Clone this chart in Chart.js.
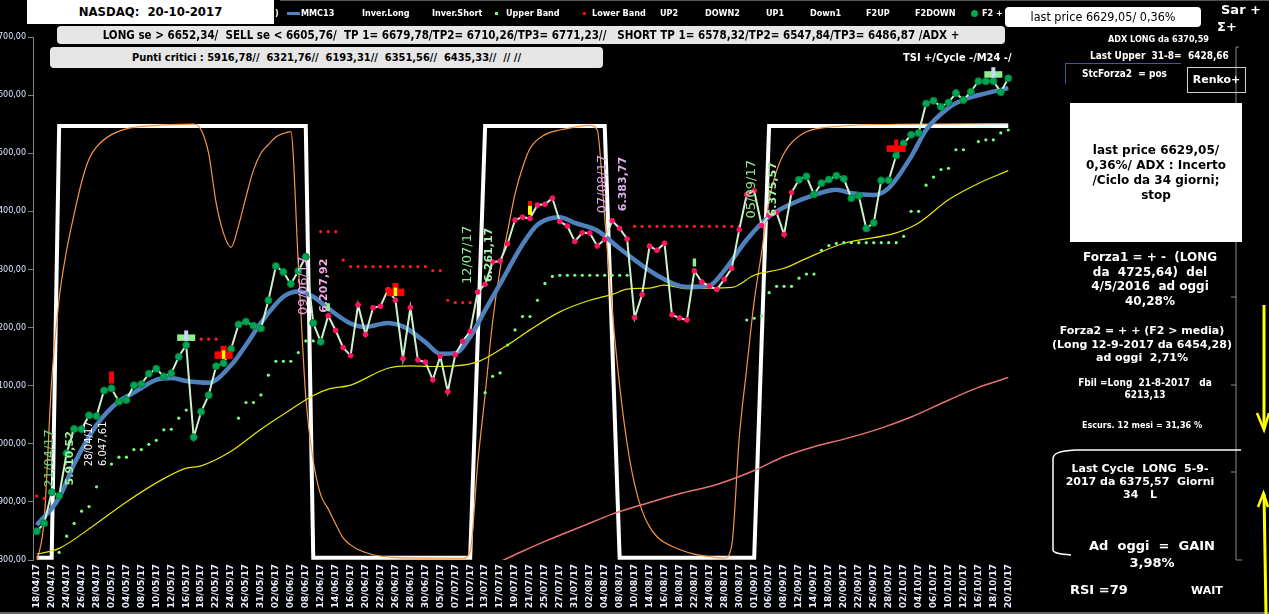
<!DOCTYPE html>
<html>
<head>
<meta charset="utf-8">
<title>NASDAQ 20-10-2017</title>
<script src="https://cdn.jsdelivr.net/npm/chart.js@4.4.1/dist/chart.umd.min.js"></script>
<style>
  html, body { margin: 0; padding: 0; background: #000; }
  #wrap { position: relative; width: 1269px; height: 614px; overflow: hidden; background: #000;
          font-family: 'DejaVu Sans Condensed', 'DejaVu Sans', sans-serif; }
  #c { position: absolute; left: 0; top: 0; }
  .t { position: absolute; color: #fff; font-weight: bold; white-space: pre; line-height: 12px; }
  .leg { top: 7px; font-size: 9px; }
  .box { position: absolute; color: #000; font-weight: bold; text-align: center; white-space: pre; }
  .panel { position: absolute; color: #fff; font-weight: bold; text-align: center; white-space: pre;
           font-family: 'DejaVu Sans', sans-serif; }
  svg { position: absolute; left: 0; top: 0; }
</style>
</head>
<body>
<div id="wrap">
  <canvas id="c" width="1269" height="614"></canvas>

  <svg width="1269" height="614">
    <line x1="280" y1="0.5" x2="1269" y2="0.5" stroke="#555" />
    <line x1="0" y1="613" x2="1269" y2="613" stroke="#cfcfcf" />
    <polyline points="1239,47 1236,47 1236,560 1242,560" fill="none" stroke="#8a8a8a" />
    <line x1="1231" y1="297" x2="1236" y2="297" stroke="#8a8a8a" />
    <line x1="1231" y1="385" x2="1236" y2="385" stroke="#8a8a8a" />
    <line x1="1231" y1="472" x2="1236" y2="472" stroke="#8a8a8a" />
    <path d="M1241,450 L1075,450 C1060,451 1053,453 1053,459 L1053,550 C1053,553 1060,554 1071,555"
          fill="none" stroke="#fff" stroke-width="1.5" />
    <line x1="1264" y1="305" x2="1264" y2="429" stroke="#ffff00" stroke-width="3" />
    <polyline points="1257,413 1264,430 1269,413" fill="none" stroke="#ffff00" stroke-width="2.5" />
    <line x1="1264" y1="494" x2="1266" y2="614" stroke="#ffff00" stroke-width="3" />
    <polyline points="1258,507 1263.5,493 1268,507" fill="none" stroke="#ffff00" stroke-width="2.5" />
  </svg>

  <!-- top legend row -->
  <div class="box" style="left:27px;top:0;width:247px;height:24px;line-height:24px;background:#fff;font-size:13px;">NASDAQ:  20-10-2017</div>
  <div class="t leg" style="left:275px;">)</div>
  <div style="position:absolute;left:287px;top:12px;width:13px;height:3px;background:#4f81bd;"></div>
  <div class="t leg" style="left:301px;">MMC13</div>
  <div class="t leg" style="left:362px;">Inver.Long</div>
  <div class="t leg" style="left:432px;">Inver.Short</div>
  <div style="position:absolute;left:495px;top:12px;width:3px;height:3px;background:#7cfc7c;"></div>
  <div class="t leg" style="left:506px;">Upper Band</div>
  <div style="position:absolute;left:583px;top:12px;width:3px;height:3px;background:#ff0000;"></div>
  <div class="t leg" style="left:592px;">Lower Band</div>
  <div class="t leg" style="left:660px;">UP2</div>
  <div class="t leg" style="left:705px;">DOWN2</div>
  <div class="t leg" style="left:766px;">UP1</div>
  <div class="t leg" style="left:810px;">Down1</div>
  <div class="t leg" style="left:866px;">F2UP</div>
  <div class="t leg" style="left:915px;">F2DOWN</div>
  <div style="position:absolute;left:971px;top:10px;width:7px;height:7px;border-radius:50%;background:#00a651;"></div>
  <div class="t leg" style="left:982px;">F2 +</div>

  <div class="box" style="left:1005px;top:7px;width:196px;height:20px;line-height:20px;background:#fff;border-radius:4px;font-size:12.5px;font-weight:normal;">last price 6629,05/ 0,36%</div>
  <div class="t" style="left:1221px;top:4px;font-size:13px;font-family:'DejaVu Sans';">Sar +</div>
  <div class="t" style="left:1217px;top:21px;font-size:13px;font-family:'DejaVu Sans';">Σ+</div>

  <div class="box" style="left:57px;top:26px;width:948px;height:18px;line-height:18px;background:#e6e6e6;border-radius:4px;font-size:11.5px;">LONG se > 6652,34/  SELL se < 6605,76/  TP 1= 6679,78/TP2= 6710,26/TP3= 6771,23//   SHORT TP 1= 6578,32/TP2= 6547,84/TP3= 6486,87 /ADX +</div>
  <div class="box" style="left:50px;top:47px;width:553px;height:21px;line-height:21px;background:#e6e6e6;border-radius:4px;font-size:11px;">Punti critici : 5916,78//  6321,76//  6193,31//  6351,56//  6435,33//  // //</div>

  <div class="t" style="left:1108px;top:33px;font-size:9px;">ADX LONG da 6370,59</div>
  <div class="t" style="left:1090px;top:50px;font-size:10px;">Last Upper  31-8=  6428,66</div>
  <div class="t" style="left:903px;top:52px;font-size:11px;">TSI +/Cycle -/M24 -/</div>
  <div class="t" style="left:1065px;top:63px;width:99px;height:20px;line-height:20px;padding-left:16px;font-size:10px;border-left:1px solid #3a5aa8;border-top:1px solid #3a5aa8;">StcForza2  = pos</div>
  <div class="t" style="left:1187px;top:67px;width:57px;height:24px;line-height:24px;text-align:center;font-size:11px;font-family:'DejaVu Sans';border:1px solid #d0d0d0;">Renko+</div>

  <!-- right panel -->
  <div class="panel" style="left:1070px;top:103px;width:172px;height:139px;background:#fff;"></div>
  <div class="panel" style="left:1056px;top:143px;width:200px;color:#000;font-size:12px;line-height:15px;">last price 6629,05/
0,36%/ ADX : Incerto
/Ciclo da 34 giorni;
stop</div>
  <div class="panel" style="left:1050px;top:250px;width:200px;font-size:12px;line-height:14.5px;">Forza1 = + -  (LONG
da  4725,64)  del
4/5/2016  ad oggi
40,28%</div>
  <div class="panel" style="left:1042px;top:324px;width:200px;font-size:11px;line-height:13.5px;">Forza2 = + + (F2 > media)
(Long 12-9-2017 da 6454,28)
ad oggi  2,71%</div>
  <div class="panel" style="left:1045px;top:377px;width:200px;font-size:10px;line-height:11.5px;font-family:'DejaVu Sans Condensed';">Fbil =Long  21-8-2017   da
6213,13</div>
  <div class="panel" style="left:1042px;top:419px;width:200px;font-size:9px;line-height:12px;font-family:'DejaVu Sans Condensed';">Escurs. 12 mesi = 31,36 %</div>
  <div class="panel" style="left:1040px;top:463px;width:200px;font-size:11px;line-height:12.8px;">Last Cycle  LONG  5-9-
2017 da 6375,57  Giorni
34   L</div>
  <div class="panel" style="left:1052px;top:537px;width:200px;font-size:13px;line-height:17px;">Ad  oggi  =  GAIN
3,98%</div>
  <div class="panel" style="left:1070px;top:582px;font-size:13px;line-height:15px;">RSI =79</div>
  <div class="panel" style="left:1191px;top:583px;font-size:11px;line-height:15px;">WAIT</div>
</div>

<script>
// trading days 18/04/17 .. 20/10/17
const days = (
  '18/04 19/04 20/04 21/04 24/04 25/04 26/04 27/04 28/04 ' +
  '01/05 02/05 03/05 04/05 05/05 08/05 09/05 10/05 11/05 12/05 15/05 16/05 17/05 18/05 19/05 22/05 23/05 24/05 25/05 26/05 30/05 31/05 ' +
  '01/06 02/06 05/06 06/06 07/06 08/06 09/06 12/06 13/06 14/06 15/06 16/06 19/06 20/06 21/06 22/06 23/06 26/06 27/06 28/06 29/06 30/06 ' +
  '03/07 05/07 06/07 07/07 10/07 11/07 12/07 13/07 14/07 17/07 18/07 19/07 20/07 21/07 24/07 25/07 26/07 27/07 28/07 31/07 ' +
  '01/08 02/08 03/08 04/08 07/08 08/08 09/08 10/08 11/08 14/08 15/08 16/08 17/08 18/08 21/08 22/08 23/08 24/08 25/08 28/08 29/08 30/08 31/08 ' +
  '01/09 05/09 06/09 07/09 08/09 11/09 12/09 13/09 14/09 15/09 18/09 19/09 20/09 21/09 22/09 25/09 26/09 27/09 28/09 29/09 ' +
  '02/10 03/10 04/10 05/10 06/10 09/10 10/10 11/10 12/10 13/10 16/10 17/10 18/10 19/10 20/10'
).split(' ').map(d => d + '/17');

// daily close
const closes = [
  5849.47, 5863.03, 5916.78, 5910.52, 5983.82, 6025.49, 6025.23, 6048.94, 6047.61,
  6091.60, 6095.37, 6072.55, 6075.34, 6100.76, 6102.66, 6120.59, 6129.14, 6115.96, 6121.23, 6149.67,
  6169.87, 6011.24, 6055.13, 6083.70, 6133.62, 6138.71, 6163.02, 6205.26, 6210.19, 6203.19, 6198.52,
  6246.83, 6305.80, 6295.68, 6275.06, 6297.38, 6321.76, 6207.92, 6175.47, 6220.37, 6194.89, 6165.50,
  6151.76, 6239.01, 6188.03, 6233.95, 6236.69, 6265.25, 6247.15, 6146.62, 6234.41, 6144.35, 6140.42,
  6110.06, 6150.86, 6089.46, 6153.08, 6176.39, 6193.31, 6261.17, 6274.44, 6312.47, 6314.43, 6344.31,
  6385.04, 6390.00, 6387.75, 6410.81, 6412.17, 6422.75, 6382.19, 6374.68, 6348.12,
  6362.94, 6362.65, 6340.34, 6351.56, 6383.77, 6370.46, 6352.33, 6216.87, 6256.56, 6340.23, 6333.01,
  6345.11, 6221.91, 6216.53, 6213.13, 6297.48, 6278.41, 6271.33, 6265.64, 6283.02, 6301.89, 6368.31, 6428.66,
  6435.33, 6375.57, 6393.31, 6397.87, 6360.19, 6432.26, 6454.28, 6460.19, 6429.08, 6448.47, 6454.64,
  6461.32, 6456.04, 6422.69, 6426.92, 6370.59, 6380.16, 6453.26, 6453.45, 6495.96,
  6516.72, 6531.71, 6534.63, 6585.36, 6590.18, 6579.73, 6587.25, 6603.55, 6591.51, 6605.80, 6624.00,
  6623.66, 6624.22, 6605.07, 6629.05
];
// short phase of the markers (pink), the rest is long (green)
const shortFrom = 39, shortTo = 101;

// [day index, value]
const mmc13 = [[0,5860],[3,5907],[5,5965],[8,6032],[11,6073],[13,6088],[16,6110],[18,6113],[20,6108],
  [23,6105],[26,6135],[28,6170],[30,6208],[33,6253],[35,6262],[37,6253],[39,6233],[42,6207],[44,6201],
  [47,6208],[49,6202],[52,6175],[54,6155],[56,6156],[58,6184],[60,6230],[62,6275],[65,6343],[67,6377],
  [70,6390],[72,6380],[75,6367],[78,6336],[83,6290],[87,6270],[90,6272],[92,6298],[95,6351],[98,6391],
  [101,6413],[104,6428],[107,6437],[109,6431],[112,6428],[114,6440],[117,6494],[119,6540],[122,6578],
  [124,6592],[127,6603],[130,6612]];
const slowMa = [[0,5810],[3,5820],[8,5863],[12,5900],[17,5940],[20,5958],[22,5962],[26,5987],[30,6025],
  [34,6059],[37,6083],[39,6094],[42,6101],[47,6130],[50,6134],[53,6133],[56,6134],[59,6141],[63,6170],
  [66,6196],[70,6227],[74,6247],[77,6257],[79,6266],[82,6268],[84,6273],[87,6267],[93,6269],[96,6290],
  [100,6302],[103,6319],[108,6345],[115,6363],[118,6380],[122,6420],[126,6448],[130,6470]];
const longMa = [[62,5797],[65,5815],[68,5832],[73,5858],[77,5879],[82,5899],[86,5914],[91,5930],[96,5954],
  [100,5978],[104,5995],[108,6008],[113,6027],[117,6046],[122,6075],[126,6097],[130,6114]];
const oscillator = [[0,5795],[1,5870],[2,6110],[3,6250],[4,6333],[5,6395],[6,6450],[7,6490],[8,6511],
  [10,6532],[12,6542],[15,6547],[21,6550],[22,6540],[23,6500],[24,6415],[25,6362],[26,6338],[27,6375],
  [28,6425],[29,6471],[30,6500],[31,6515],[32,6528],[33,6534],[34,6537],[35,6310],[36,6080],[37,5970],
  [38,5912],[39,5888],[40,5862],[41,5838],[42,5826],[43,5818],[45,5809],[48,5804],[57,5803],[58,5815],
  [59,5965],[60,6085],[61,6210],[62,6300],[63,6365],[64,6430],[65,6475],[66,6508],[68,6532],[70,6540],
  [72,6545],[74,6548],[75,6540],[76,6390],[77,6230],[78,6100],[79,6000],[80,5930],[81,5885],[82,5857],
  [83,5840],[84,5830],[86,5818],[88,5810],[90,5806],[92,5803],[93,5825],[94,6010],[95,6130],[96,6245],
  [97,6330],[98,6420],[99,6470],[100,6500],[101,6518],[103,6537],[107,6546],[111,6549],[130,6551]];
const cycle = [[0,5804],[2,5804],[3,6547],[36,6547],[37,5804],[58,5804],[60,6547],[76,6547],[78,5804],
  [96,5804],[98,6547],[130,6547]];
const upperBand = [[3,5813],[4,5841],[5,5863],[6,5884],[7,5892],[8,5926],[10,5965],[11,5977],[12,5977],
  [13,5990],[14,5990],[15,5999],[16,6006],[17,6024],[18,6025],[19,6044],[20,6058],
  [27,6044],[28,6071],[29,6071],[30,6084],[31,6118],[32,6142],[33,6142],[34,6142],[35,6157],[36,6177],[37,6177],
  [60,6088],[61,6116],[62,6122],[63,6170],[64,6196],[65,6219],[66,6219],[67,6247],[68,6276],[69,6288],
  [70,6290],[71,6290],[72,6290],[73,6290],[74,6290],[75,6290],[76,6290],[77,6290],[78,6290],[79,6290],
  [95,6213],[96,6216],[97,6220],[98,6260],[99,6271],[100,6271],[101,6271],[102,6285],[103,6292],[104,6292],
  [105,6333],[106,6341],[107,6345],[108,6346],[109,6346],[110,6346],[111,6346],[112,6346],[113,6346],
  [114,6346],[115,6346],[116,6357],[117,6400],[118,6400],[119,6445],[120,6459],[121,6472],[122,6474],
  [123,6506],[124,6506],[126,6520],[127,6523],[128,6523],[129,6535],[130,6540]];
const lowerBand = [[0,5910],[1,5906],[22,6180],[23,6180],[24,6180],[38,6365],[39,6365],[40,6365],[41,6316],
  [42,6305],[43,6305],[44,6305],[45,6305],[46,6305],[47,6305],[48,6305],[49,6305],[50,6305],[51,6305],
  [52,6305],[53,6298],[54,6298],[55,6247],[56,6243],[57,6243],[58,6243],
  [80,6374],[81,6374],[82,6374],[83,6374],[84,6374],[85,6374],[86,6374],[87,6374],[88,6374],[89,6374],
  [90,6374],[91,6374],[92,6374],[93,6374],[94,6374]];

// signal marks on the price
const signals = [
  { day: 10, at: 6114, kind: 'bar' },
  { day: 20, at: 6183, kind: 'f2' },
  { day: 25, at: 6153, kind: 'cross' },
  { day: 39, at: 6235, kind: 'tick' },
  { day: 48, at: 6261, kind: 'cross' },
  { day: 66, at: 6406, kind: 'flag' },
  { day: 88, at: 6312, kind: 'tick' },
  { day: 115, at: 6508, kind: 'bigcross' },
  { day: 128, at: 6636, kind: 'f2' }
];
// rotated date / price notes
const notes = [
  { day: 3, at: 5975, date: '21/04/17', price: '5.910,52', c1: '#6fd86f', c2: '#9ef09e', big: true },
  { day: 8, at: 6000, date: '28/04/17', price: '6.047,61', c1: '#ffffff', c2: '#ffffff', big: false },
  { day: 37, at: 6272, date: '09/06/17', price: '6.207,92', c1: '#f0a0ea', c2: '#f4a8e4', big: true },
  { day: 59, at: 6325, date: '12/07/17', price: '6.261,17', c1: '#8ee88e', c2: '#a8f0a8', big: true },
  { day: 77, at: 6447, date: '07/08/17', price: '6.383,77', c1: '#d8a0f4', c2: '#e0b0f8', big: true },
  { day: 97, at: 6438, date: '05/09/17', price: '6.375,57', c1: '#8ee88e', c2: '#a8f0a8', big: true }
];

function pairs(list) {
  return list.map(([d, v]) => ({ x: days[d], y: v }));
}

const marks = {
  id: 'marks',
  afterDatasetsDraw(chart) {
    const { ctx, scales: { x, y } } = chart;
    ctx.save();
    signals.forEach(s => {
      const px = x.getPixelForValue(s.day), py = y.getPixelForValue(s.at);
      if (s.kind === 'bar') {
        ctx.fillStyle = '#ff0000'; ctx.fillRect(px - 2.5, py - 6, 5, 12);
      } else if (s.kind === 'f2') {
        ctx.fillStyle = '#90ee90'; ctx.fillRect(px - 9, py - 3, 18, 6.5);
        ctx.fillStyle = '#c4d8f4'; ctx.fillRect(px - 2, py - 7, 4, 10.5);
      } else if (s.kind === 'cross') {
        ctx.fillStyle = '#ff0000';
        ctx.fillRect(px - 9, py - 3.5, 18, 7.5);
        ctx.fillRect(px - 3, py - 9, 6, 6);
        ctx.fillStyle = '#ffff00'; ctx.fillRect(px - 1.7, py - 4.5, 3.4, 8.5);
      } else if (s.kind === 'tick') {
        ctx.fillStyle = '#90ee90'; ctx.fillRect(px - 1.7, py - 4, 3.4, 8);
      } else if (s.kind === 'flag') {
        ctx.fillStyle = '#ff0000'; ctx.fillRect(px - 2, py - 7, 4, 5);
        ctx.fillStyle = '#ffff00'; ctx.fillRect(px - 2, py - 2, 4, 9);
      } else if (s.kind === 'bigcross') {
        ctx.fillStyle = '#ff0000';
        ctx.fillRect(px - 9.5, py - 3.3, 19, 6.7);
        ctx.fillRect(px - 2, py - 9, 4, 6);
      }
    });
    notes.forEach(n => {
      const px = x.getPixelForValue(n.day), py = y.getPixelForValue(n.at);
      const d1 = n.big ? -10 : -7.5, d2 = n.big ? 11 : 6.5;
      [[n.date, d1, n.c1, n.big ? '13px' : '10px', ''], [n.price, d2, n.c2, n.big ? '11px' : '10px', n.big ? 'bold ' : '']]
        .forEach(([txt, dx, col, size, w]) => {
          ctx.save();
          ctx.translate(px + dx, py);
          ctx.rotate(-Math.PI / 2);
          ctx.font = w + size + ' "DejaVu Sans"';
          ctx.fillStyle = col;
          ctx.textAlign = 'center';
          ctx.textBaseline = 'middle';
          ctx.fillText(txt, 0, 0);
          ctx.restore();
        });
    });
    ctx.restore();
  }
};

const isShort = i => i >= shortFrom && i <= shortTo;

new Chart(document.getElementById('c'), {
  type: 'line',
  data: {
    labels: days,
    datasets: [
      {
        label: 'NASDAQ', data: closes, borderColor: '#ccf2cc', borderWidth: 2, tension: 0,
        pointRadius: ctx => isShort(ctx.dataIndex) ? 2.4 : 3.5,
        pointBackgroundColor: ctx => isShort(ctx.dataIndex) ? '#ff1464' : '#00a651',
        pointBorderColor: ctx => isShort(ctx.dataIndex) ? '#ff1464' : '#00803c',
        pointBorderWidth: 1
      },
      { label: 'MMC13', data: pairs(mmc13), borderColor: '#4f81bd', borderWidth: 4.5, pointRadius: 0, cubicInterpolationMode: 'monotone' },
      { label: 'Upper Band', data: pairs(upperBand), showLine: false, pointRadius: 1.6, pointBorderWidth: 0, pointBackgroundColor: '#7cfc7c' },
      { label: 'Lower Band', data: pairs(lowerBand), showLine: false, pointRadius: 1.6, pointBorderWidth: 0, pointBackgroundColor: '#ff1a1a' },
      { label: 'Media', data: pairs(slowMa), borderColor: '#e6e600', borderWidth: 1.2, pointRadius: 0, cubicInterpolationMode: 'monotone' },
      { label: 'Media lunga', data: pairs(longMa), borderColor: '#e57373', borderWidth: 1.5, pointRadius: 0, cubicInterpolationMode: 'monotone' },
      { label: 'TSI', data: pairs(oscillator), borderColor: '#f79646', borderWidth: 1.2, pointRadius: 0, cubicInterpolationMode: 'monotone' },
      { label: 'Cycle', data: pairs(cycle), borderColor: '#ffffff', borderWidth: 4, pointRadius: 0, tension: 0 }
    ]
  },
  options: {
    responsive: false,
    animation: false,
    devicePixelRatio: 1,
    layout: { padding: { left: 0, right: 257, top: 37, bottom: 0 } },
    plugins: { legend: { display: false }, tooltip: { enabled: false } },
    scales: {
      x: {
        offset: true,
        grid: { display: false, drawTicks: false },
        border: { display: false },
        ticks: {
          autoSkip: false, maxRotation: 90, minRotation: 90, padding: 4,
          color: '#e8eeff', font: { family: 'DejaVu Sans', size: 9, weight: 'bold' },
          callback: (v, i) => i % 2 === 0 ? days[i] : ''
        },
        afterFit: s => { s.height = 54; }
      },
      y: {
        min: 5800, max: 6700,
        ticks: {
          stepSize: 100, padding: 2, color: '#dde6ff',
          font: { family: 'DejaVu Sans', size: 8 },
          callback: v => v.toFixed(2).replace('.', ',')
        },
        grid: { drawOnChartArea: false, tickLength: 5, color: '#808080' },
        border: { color: '#808080' },
        afterFit: s => { s.width = 33; }
      }
    }
  },
  plugins: [marks]
});
</script>
</body>
</html>
